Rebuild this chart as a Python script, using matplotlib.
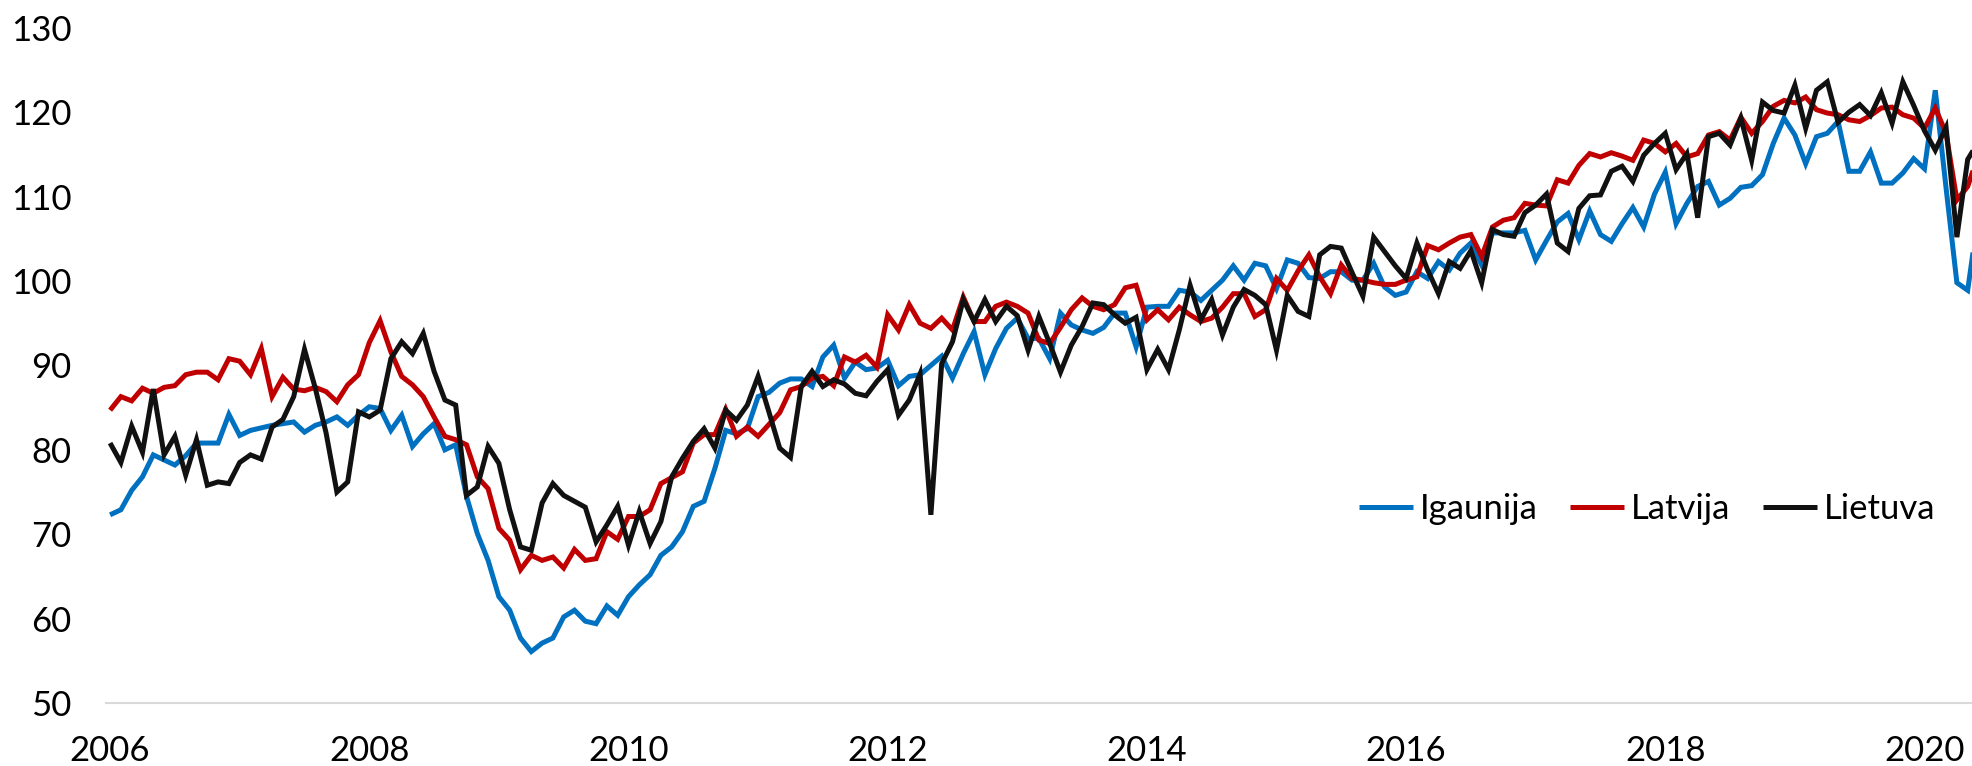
"""Baltic index chart: Igaunija, Latvija, Lietuva (monthly, 2006-2020)."""
import matplotlib
matplotlib.use("Agg")
import matplotlib.pyplot as plt
import numpy as np

plt.rcParams["font.family"] = ["Lato", "DejaVu Sans"]

start_year = 2006
tick_years = [2006, 2008, 2010, 2012, 2014, 2016, 2018, 2020]
y_ticks = [50, 60, 70, 80, 90, 100, 110, 120, 130]

# monthly values from Jan 2006
igaunija = [
    72.3, 72.9, 75.2, 76.8, 79.4, 78.8, 78.2, 79.3, 80.8, 80.8, 80.8, 84.2,
    81.7, 82.3, 82.6, 82.9, 83.1, 83.3, 82.1, 82.9, 83.3, 83.9, 82.9, 84.1,
    85.1, 84.9, 82.3, 84.1, 80.4, 81.9, 83.1, 80.0, 80.6, 74.5, 70.1, 66.9,
    62.6, 61.0, 57.7, 56.1, 57.1, 57.7, 60.2, 61.0, 59.7, 59.4, 61.5, 60.4,
    62.6, 64.0, 65.2, 67.5, 68.5, 70.3, 73.3, 73.9, 77.8, 82.3, 81.9, 82.5,
    86.3, 86.8, 87.9, 88.4, 88.4, 87.5, 91.0, 92.4, 88.5, 90.4, 89.5, 89.7,
    90.6, 87.6, 88.7, 88.9, 90.0, 91.1, 88.5, 91.4, 94.0, 88.9, 92.0, 94.4,
    95.6, 93.2, 93.2, 90.8, 96.2, 94.8, 94.2, 93.8, 94.5, 96.2, 96.2, 92.2,
    96.9, 97.0, 97.0, 98.9, 98.7, 97.7, 98.9, 100.1, 101.8, 100.1, 102.1, 101.8,
    99.1, 102.5, 102.1, 100.4, 100.3, 101.1, 101.1, 100.1, 100.1, 102.1, 99.3, 98.3,
    98.7, 101.1, 100.3, 102.3, 101.3, 103.3, 104.5, 101.9, 105.7, 105.7, 105.7, 106.0,
    102.5, 104.8, 107.0, 108.0, 104.9, 108.3, 105.5, 104.7, 106.8, 108.7, 106.4, 110.3,
    112.9, 106.8, 109.2, 111.2, 111.8, 109.0, 109.8, 111.1, 111.3, 112.6, 116.3, 119.3,
    117.3, 113.9, 117.1, 117.5, 118.9, 113.0, 113.0, 115.3, 111.6, 111.6, 112.8, 114.5,
    113.3, 122.6, 111.0, 99.8, 98.9, 108.0,
]
latvija = [
    84.7, 86.3, 85.8, 87.3, 86.7, 87.4, 87.6, 88.9, 89.2, 89.2, 88.3, 90.8,
    90.5, 88.9, 92.0, 86.3, 88.6, 87.2, 87.0, 87.4, 86.9, 85.7, 87.7, 88.9,
    92.7, 95.3, 91.6, 88.7, 87.7, 86.3, 83.9, 81.6, 81.2, 80.6, 76.8, 75.4,
    70.7, 69.3, 65.8, 67.5, 66.9, 67.3, 66.0, 68.2, 66.9, 67.1, 70.3, 69.4,
    72.1, 72.1, 72.9, 76.0, 76.7, 77.4, 80.8, 81.8, 81.8, 84.8, 81.6, 82.7,
    81.6, 83.0, 84.4, 87.1, 87.5, 88.5, 88.7, 87.6, 91.0, 90.4, 91.2, 89.8,
    96.0, 94.2, 97.2, 95.0, 94.4, 95.6, 94.2, 98.1, 95.2, 95.2, 97.0, 97.5,
    97.0, 96.2, 93.0, 92.6, 94.5, 96.6, 98.0, 97.0, 96.6, 97.2, 99.2, 99.5,
    95.4, 96.6, 95.4, 96.9, 96.0, 95.2, 95.6, 96.9, 98.5, 98.5, 95.8, 96.6,
    100.3, 98.9, 101.2, 103.1, 100.5, 98.5, 101.9, 100.3, 100.1, 99.8, 99.6, 99.6,
    100.1, 100.5, 104.2, 103.7, 104.5, 105.2, 105.5, 102.9, 106.4, 107.2, 107.5, 109.2,
    109.0, 108.9, 112.0, 111.6, 113.7, 115.1, 114.7, 115.2, 114.8, 114.3, 116.7, 116.3,
    115.3, 116.3, 114.7, 115.1, 117.3, 117.7, 116.7, 119.4, 117.5, 118.9, 120.7, 121.4,
    121.1, 121.8, 120.3, 119.9, 119.7, 119.1, 118.9, 119.6, 120.5, 120.6, 119.7, 119.3,
    118.1, 120.5, 117.5, 109.6, 111.2, 115.0,
]
lietuva = [
    80.8, 78.5, 82.8, 79.7, 87.2, 79.4, 81.6, 77.0, 81.2, 75.8, 76.2, 76.0,
    78.5, 79.4, 78.9, 82.7, 83.6, 86.3, 91.9, 87.3, 82.0, 75.0, 76.2, 84.5,
    83.9, 84.7, 90.8, 92.8, 91.4, 93.8, 89.3, 85.9, 85.3, 74.6, 75.6, 80.4,
    78.4, 72.9, 68.5, 68.1, 73.7, 76.0, 74.6, 73.9, 73.2, 69.1, 71.1, 73.3,
    68.7, 72.7, 68.9, 71.5, 76.8, 79.0, 81.0, 82.5, 80.2, 84.7, 83.5, 85.3,
    88.7, 84.5, 80.2, 79.1, 87.5, 89.3, 87.5, 88.3, 87.8, 86.7, 86.4, 88.1,
    89.5, 84.1, 85.9, 89.0, 72.3, 90.2, 92.8, 97.8, 95.2, 97.8, 95.2, 97.0,
    95.9, 91.8, 95.8, 92.6, 89.2, 92.4, 94.6, 97.4, 97.2, 96.0, 95.0, 95.7,
    89.5, 91.9, 89.5, 94.2, 99.5, 95.4, 97.8, 93.6, 96.9, 99.0, 98.3, 97.2,
    91.8, 98.3, 96.4, 95.8, 103.1, 104.1, 103.9, 101.0, 98.2, 105.2, 103.5, 101.8,
    100.3, 104.5, 101.3, 98.5, 102.3, 101.5, 103.6, 99.8, 106.1, 105.5, 105.3, 108.1,
    109.0, 110.3, 104.5, 103.5, 108.6, 110.1, 110.2, 113.0, 113.6, 111.8, 114.9, 116.3,
    117.5, 113.2, 115.1, 107.5, 117.1, 117.5, 116.1, 119.3, 114.3, 121.2, 120.2, 119.9,
    123.2, 118.1, 122.6, 123.6, 118.8, 120.0, 120.9, 119.6, 122.3, 118.7, 123.6, 120.8,
    117.8, 115.5, 118.2, 105.2, 114.4, 116.5,
]

series = [
    ("Igaunija", igaunija, "#0070C0"),
    ("Latvija", latvija, "#C00000"),
    ("Lietuva", lietuva, "#111111"),
]

fig = plt.figure(figsize=(19.72, 7.66), dpi=100)
ax = fig.add_axes([0.0538, 0.0822, 0.9462, 0.8815])

for name, vals, color in series:
    months = np.arange(len(vals))
    ax.plot(months, vals, color=color, linewidth=3.6, label=name,
            solid_joinstyle="miter", solid_capstyle="butt")

ax.set_xlim(-0.37, 172.4)
ax.set_ylim(50, 130)
ax.set_yticks(y_ticks)
ax.set_xticks([(y - start_year) * 12 for y in tick_years])
ax.set_xticklabels([str(y) for y in tick_years])

for side in ("left", "right", "top"):
    ax.spines[side].set_visible(False)
ax.spines["bottom"].set_color("#D9D9D9")
ax.spines["bottom"].set_linewidth(1.5)
ax.tick_params(axis="both", length=0, labelsize=25, colors="#000000")
ax.tick_params(axis="y", pad=25)
ax.tick_params(axis="x", pad=23)

fig.legend(loc="center left", bbox_to_anchor=(0.689, 0.3355), ncol=3,
           frameon=False, fontsize=25, handlelength=1.55, handletextpad=0.2,
           columnspacing=0.95, borderpad=0, borderaxespad=0)

fig.savefig("out.png", dpi=100)
